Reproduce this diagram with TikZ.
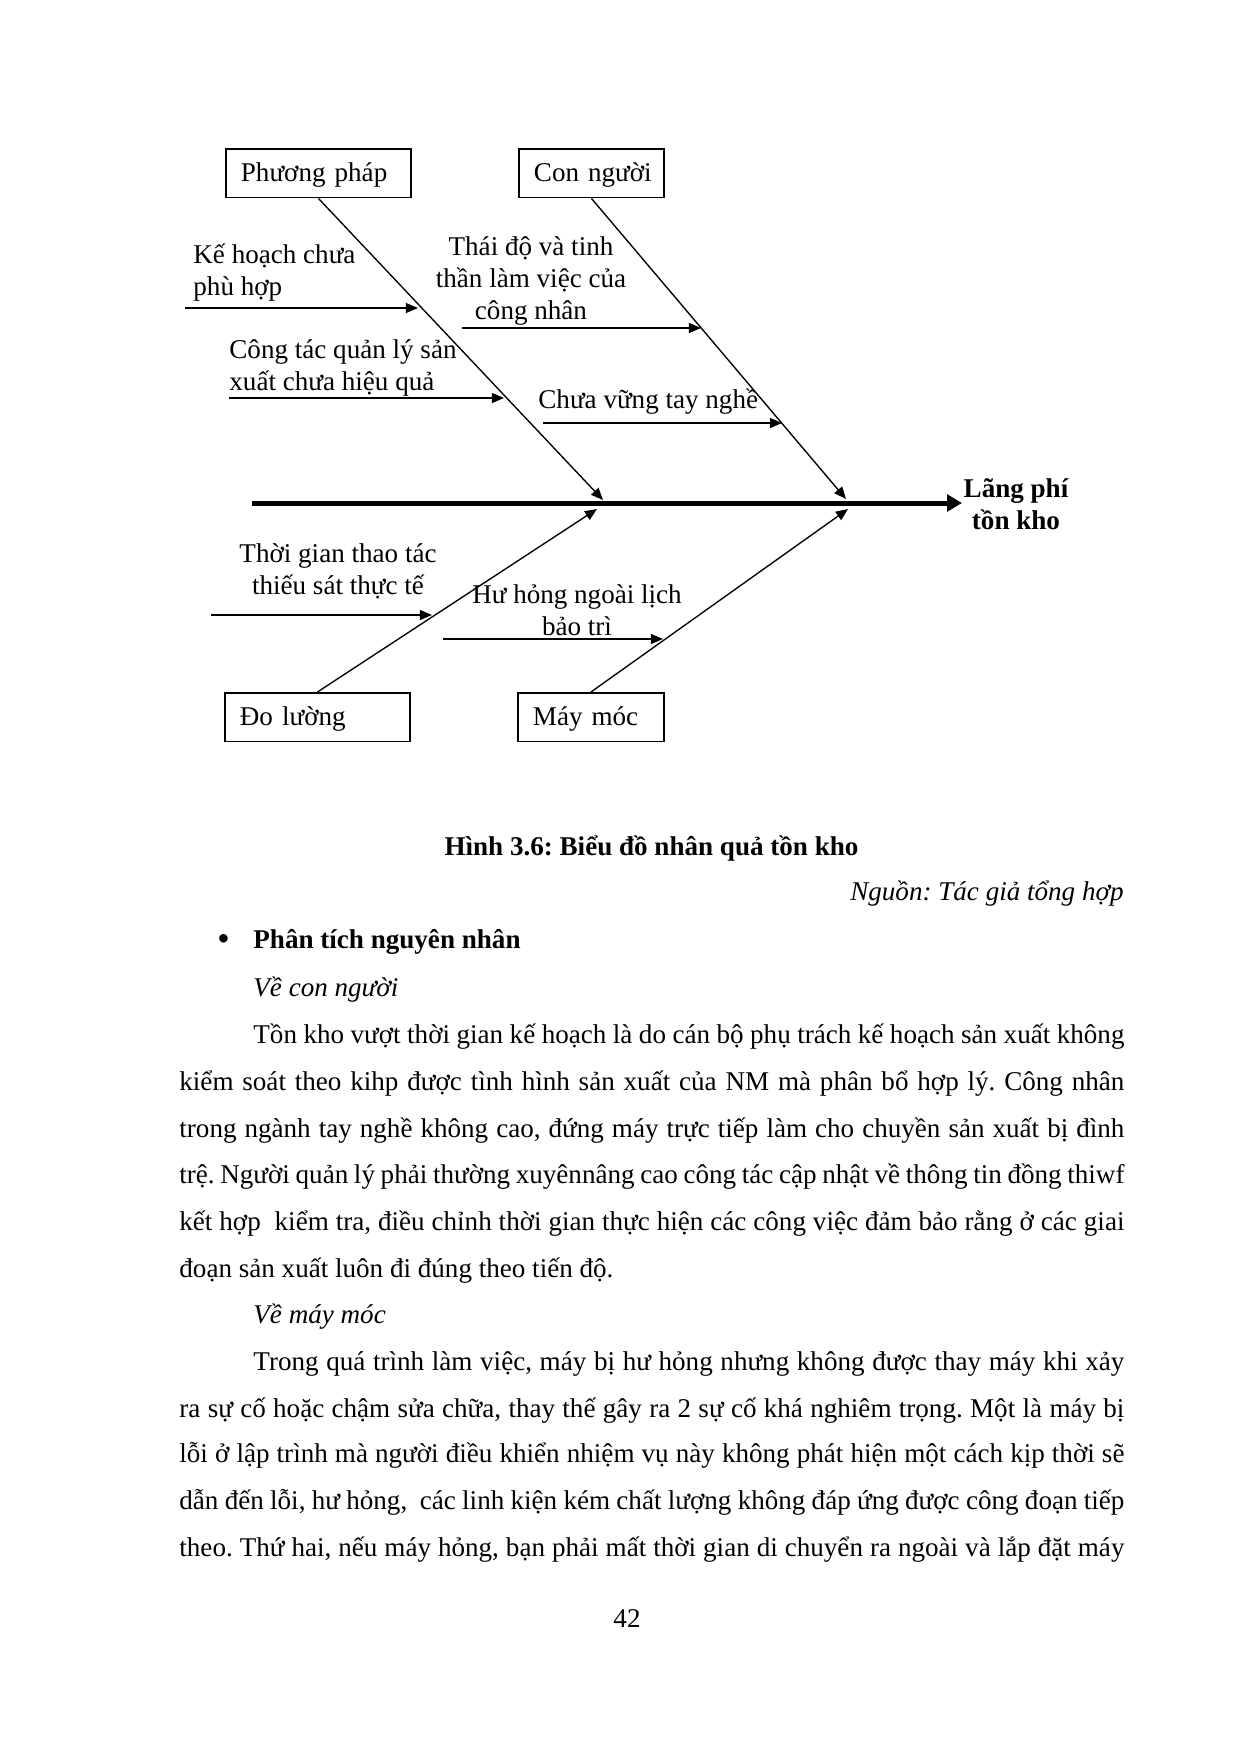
\documentclass[tikz,border=0pt]{standalone}
\usepackage{fontspec}
\setmainfont{Liberation Serif}
\usetikzlibrary{arrows.meta}
\frenchspacing
\newcommand\fsz{\fontsize{13pt}{15.4pt}\selectfont}
\newcommand\fullline[1]{\hbox to 453.6pt{#1}}
\begin{document}
\begin{tikzpicture}[x=0.48pt,y=-0.48pt,
  catbox/.style={draw,line width=0.9pt,anchor=north west,inner xsep=7.2pt,inner ysep=0pt,
    text width=#1,minimum height=23.3pt,text height=7.7pt,text depth=0pt,align=left,font=\fsz},
  bone/.style={line width=0.65pt,-{Triangle[length=5.8pt,width=4.8pt]}},
  cause/.style={line width=0.65pt,-{Triangle[length=5.8pt,width=4.8pt]}},
  spine/.style={line width=2.4pt,-{Triangle[length=7.2pt,width=8pt]}},
  lbl/.style={inner sep=0pt,font=\fsz},
  body/.style={anchor=base west,inner sep=0pt,font=\fsz}]
\fill[white] (0,0) rectangle (1240,1754);
\useasboundingbox (0,0) rectangle (1240,1754);

% category boxes
\node[catbox=74.4pt] (pp) at (225,148) {\mbox{Phương pháp}};
\node[catbox=55.2pt] (cn) at (518,148) {\mbox{Con người}};
\node[catbox=74.4pt] (dl) at (224,692) {\mbox{Đo lường}};
\node[catbox=55.7pt] (mm) at (517,692) {\mbox{Máy móc}};

% spine
\coordinate (s0) at (252,503);
\node[lbl,anchor=base,font=\fsz\bfseries] (eff) at (1016,497)
  {\begin{tabular}[t]{@{}c@{}}Lãng phí\\tồn kho\end{tabular}};
\coordinate (s1) at (962,503);
\draw[spine] (s0) -- (s1);

% bone tips on spine
\coordinate (tpp) at (603,500);
\coordinate (tcn) at (846,499);
\coordinate (tdl) at (597,509);
\coordinate (tmm) at (848,509);
\draw[bone] (pp.south) -- (tpp);
\draw[bone] (cn.south) -- (tcn);
\draw[bone] (dl.north) -- (tdl);
\draw[bone] (mm.north) -- (tmm);

% causes
\node[lbl,anchor=base west] (c1) at (193,263)
  {\begin{tabular}[t]{@{}l@{}}Kế hoạch chưa\\phù hợp\end{tabular}};
\coordinate (a1) at (185,308); \coordinate (b1) at (418,308);
\draw[cause] (a1) -- (b1);

\node[lbl,anchor=base west] (c2) at (229,358)
  {\begin{tabular}[t]{@{}l@{}}Công tác quản lý sản\\xuất chưa hiệu quả\end{tabular}};
\coordinate (a2) at (229,398); \coordinate (b2) at (504,398);
\draw[cause] (a2) -- (b2);

\node[lbl,anchor=base] (c3) at (531,255)
  {\begin{tabular}[t]{@{}c@{}}Thái độ và tinh\\thần làm việc của\\công nhân\end{tabular}};
\coordinate (a3) at (462,328); \coordinate (b3) at (701,328);
\draw[cause] (a3) -- (b3);

\node[lbl,anchor=base west] (c4) at (538,408) {Chưa vững tay nghề};
\coordinate (a4) at (543,423); \coordinate (b4) at (782,423);
\draw[cause] (a4) -- (b4);

\node[lbl,anchor=base] (c5) at (338,562)
  {\begin{tabular}[t]{@{}c@{}}Thời gian thao tác\\thiếu sát thực tế\end{tabular}};
\coordinate (a5) at (211,615); \coordinate (b5) at (432,615);
\draw[cause] (a5) -- (b5);

\node[lbl,anchor=base] (c6) at (577,603)
  {\begin{tabular}[t]{@{}c@{}}Hư hỏng ngoài lịch\\bảo trì\end{tabular}};
\coordinate (a6) at (443,639); \coordinate (b6) at (663,639);
\draw[cause] (a6) -- (b6);

% caption and source
\node[lbl,anchor=base,font=\fsz\bfseries] (cap) at (651.5,855) {Hình 3.6: Biểu đồ nhân quả tồn kho};
\node[lbl,anchor=base east,font=\fsz\itshape] (src) at (1124,900) {Nguồn: Tác giả tổng hợp};

% body text
\node[body,font=\fontsize{17pt}{17pt}\selectfont] (bul) at (217,950) {•};
\node[body,font=\fsz\bfseries] (h1) at (253,948) {Phân tích nguyên nhân};
\node[body,font=\fsz\itshape] (h2) at (253,996) {Về con người};
\node[body] (l1) at (253,1043) {\hbox to 418.1pt{Tồn kho vượt thời gian kế hoạch là do cán bộ phụ trách kế hoạch sản xuất không}};
\node[body] (l2) at (179,1090) {\fullline{kiểm soát theo kihp được tình hình sản xuất của NM mà phân bổ hợp lý. Công nhân}};
\node[body] (l3) at (179,1137) {\fullline{trong ngành tay nghề không cao, đứng máy trực tiếp làm cho chuyền sản xuất bị đình}};
\node[body] (l4) at (179,1183) {\fullline{trệ. Người quản lý phải thường xuyênnâng cao công tác cập nhật về thông tin đồng thiwf}};
\node[body] (l5) at (179,1230) {\fullline{kết hợp\ \ kiểm tra, điều chỉnh thời gian thực hiện các công việc đảm bảo rằng ở các giai}};
\node[body] (l6) at (179,1277) {đoạn sản xuất luôn đi đúng theo tiến độ.};
\node[body,font=\fsz\itshape] (h3) at (253,1323) {Về máy móc};
\node[body] (l7) at (253,1370) {\hbox to 418.1pt{Trong quá trình làm việc, máy bị hư hỏng nhưng không được thay máy khi xảy}};
\node[body] (l8) at (179,1417) {\fullline{ra sự cố hoặc chậm sửa chữa, thay thế gây ra 2 sự cố khá nghiêm trọng. Một là máy bị}};
\node[body] (l9) at (179,1462) {\fullline{lỗi ở lập trình mà người điều khiển nhiệm vụ này không phát hiện một cách kịp thời sẽ}};
\node[body] (l10) at (179,1509) {\fullline{dẫn đến lỗi, hư hỏng,\ \ các linh kiện kém chất lượng không đáp ứng được công đoạn tiếp}};
\node[body] (l11) at (179,1556) {\fullline{theo. Thứ hai, nếu máy hỏng, bạn phải mất thời gian di chuyển ra ngoài và lắp đặt máy}};
\node[lbl,anchor=base] (pg) at (627,1627) {42};
\end{tikzpicture}
\end{document}
